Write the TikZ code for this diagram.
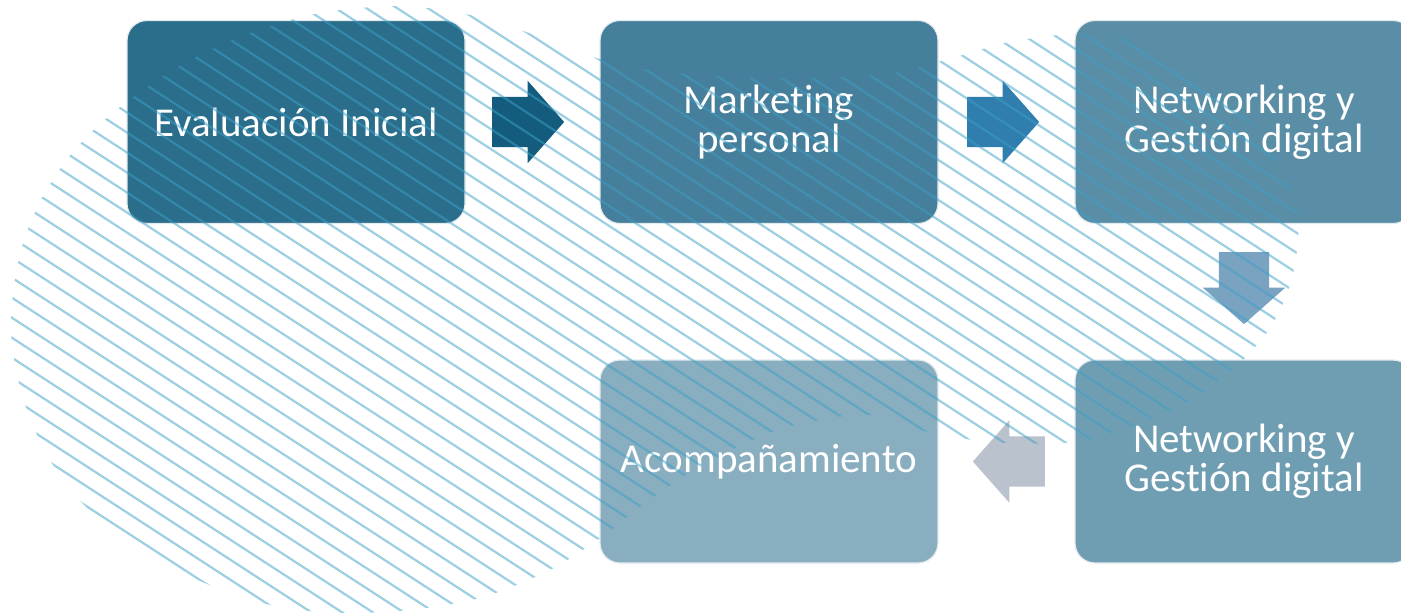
\documentclass[tikz,border=0pt]{standalone}
\usepackage{fontspec}
\setmainfont{Carlito}[Ligatures={NoCommon}]
\usetikzlibrary{shapes.arrows,calc}
\definecolor{box1}{HTML}{2B6E8C}
\definecolor{box2}{HTML}{467F9B}
\definecolor{box3}{HTML}{5A8EA6}
\definecolor{box4}{HTML}{6F9EB3}
\definecolor{box5}{HTML}{88AEBF}
\definecolor{arr1}{HTML}{145C7E}
\definecolor{arr2}{HTML}{2F7EAD}
\definecolor{arr3}{HTML}{7AA3C1}
\definecolor{arr4}{HTML}{B9C2CD}
\definecolor{boxedge}{HTML}{E3EAEE}
\definecolor{hatchc}{RGB}{60,160,200}
\begin{document}
\begin{tikzpicture}[x=1pt,y=-1pt,
  stepbox/.style={rounded corners=20pt, minimum width=338pt, minimum height=203pt,
    draw=boxedge, line width=1.2pt, text=white, font=\fontsize{41}{39}\selectfont,
    align=center, inner sep=0pt},
  blockarrow/.style={single arrow, minimum height=72pt, minimum width=82pt,
    single arrow head extend=16pt, single arrow tip angle=97, draw=none},
  harrow/.style={blockarrow, inner xsep=0pt, inner ysep=25pt},
  varrow/.style={blockarrow, inner xsep=25pt, inner ysep=0pt},
  hatch/.style={draw=hatchc, draw opacity=0.5, line width=2.2pt}]
\useasboundingbox (0,0) rectangle (1401,615);
\clip (0,0) rectangle (1401,615);
\fill[white] (0,0) rectangle (1401,615);

\node[stepbox, fill=box1] (b1) at (296,122) {Evaluación Inicial};
\node[stepbox, fill=box2] (b2) at (769,122) {Marketing\\personal};
\node[stepbox, fill=box3] (b3) at (1244,122) {Networking y\\Gestión digital};
\node[stepbox, fill=box4] (b4) at (1244,461.5) {Networking y\\Gestión digital};
\node[stepbox, fill=box5] (b5) at (769,461.5) {Acompañamiento};

\node[harrow, fill=arr1, anchor=tip] (a1) at ($(b2.west)+(-35,0)$) {};
\node[harrow, fill=arr2, anchor=tip] (a2) at ($(b3.west)+(-35,0)$) {};
\node[varrow, fill=arr3, shape border rotate=270, anchor=tip] (a3) at ($(b4.north)+(0,-35)$) {};
\node[harrow, fill=arr4, shape border rotate=180, anchor=tip] (a4) at ($(b5.east)+(34,0)$) {};

\begin{scope}
\clip plot[smooth cycle] coordinates {
 (11,330) (14,285) (24,240) (42,198) (68,158) (100,124) (140,92) (190,60) (250,33)
 (320,13) (400,6) (470,15) (535,35) (590,56) (650,70) (760,78) (880,75) (945,60)
 (1010,42) (1080,34) (1150,45) (1215,85) (1265,140) (1295,200) (1298,240) (1290,285)
 (1270,328) (1235,368) (1192,400) (1140,424) (1075,442) (990,442) (920,430) (870,415)
 (825,419) (780,429) (740,446) (690,472) (640,507) (600,538) (550,570) (480,598)
 (400,611) (320,612) (250,600) (180,572) (120,538) (75,495) (47,455) (27,410) (16,370)};
\foreach \c in {-950,-930,...,620} \draw[hatch] (0,\c) -- (1401,\c+910.65);
\end{scope}
\end{tikzpicture}
\end{document}
